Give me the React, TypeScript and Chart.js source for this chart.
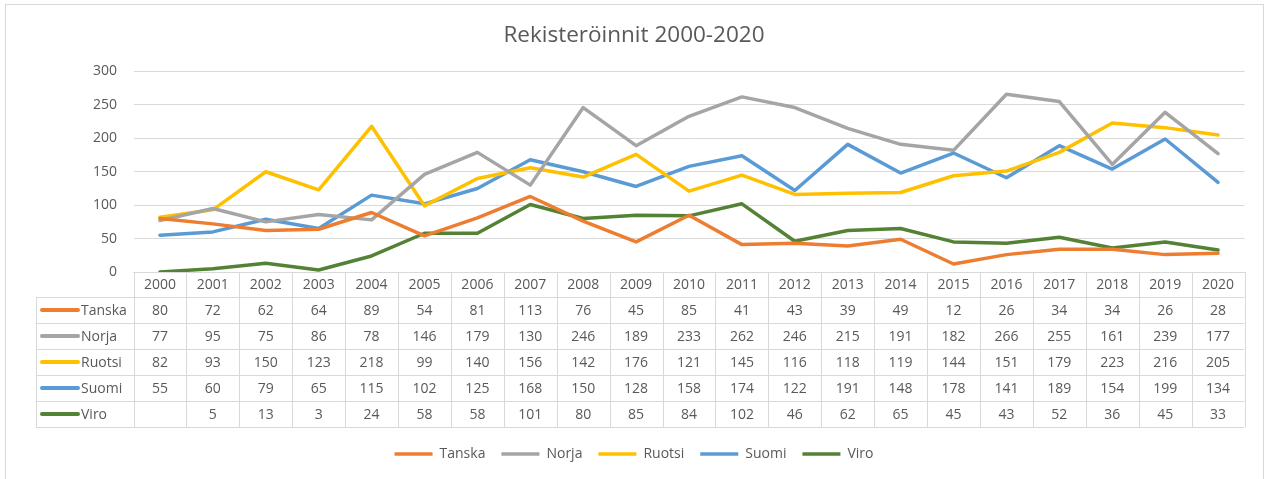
import React, { useEffect, useRef } from "react";
import { Chart, registerables } from "chart.js";

Chart.register(...registerables);

const years = ["2000","2001","2002","2003","2004","2005","2006","2007","2008","2009","2010","2011","2012","2013","2014","2015","2016","2017","2018","2019","2020"];
const tanska = [80,72,62,64,89,54,81,113,76,45,85,41,43,39,49,12,26,34,34,26,28];
const norja = [77,95,75,86,78,146,179,130,246,189,233,262,246,215,191,182,266,255,161,239,177];
const ruotsi = [82,93,150,123,218,99,140,156,142,176,121,145,116,118,119,144,151,179,223,216,205];
const suomi = [55,60,79,65,115,102,125,168,150,128,158,174,122,191,148,178,141,189,154,199,134];
const viro: (number | null)[] = [null,5,13,3,24,58,58,101,80,85,84,102,46,62,65,45,43,52,36,45,33];

const seriesNames = ["Tanska", "Norja", "Ruotsi", "Suomi", "Viro"];
const seriesColors = ["#ED7D31", "#A5A5A5", "#FFC000", "#5B9BD5", "#548235"];
const seriesValues: (number | null)[][] = [tanska, norja, ruotsi, suomi, viro];
const yTicks = { min: 0, max: 300, step: 50 };

const FONT = "'Open Sans', 'Noto Sans', sans-serif";
const TEXT = "#595959";
const GRID = "#d9d9d9";

const tablePlugin = {
  id: "dataTable",
  beforeDraw(chart: any) {
    const ctx = chart.ctx;
    ctx.save();
    ctx.strokeStyle = GRID;
    ctx.lineWidth = 1;
    ctx.strokeRect(5.5, 4.5, chart.width - 10, chart.height + 20);
    ctx.restore();
  },
  afterDraw(chart: any) {
    const ctx = chart.ctx;
    const xs = chart.scales.x;
    const { left, right, bottom } = chart.chartArea;
    const n = years.length;
    const colW = (right - left) / n;
    const headH = 25;
    const rowH = 26;
    const tableLeft = 36;
    const tableBottom = bottom + headH + rowH * seriesNames.length;
    const px = (v: number) => Math.round(v) + 0.5;

    ctx.save();
    ctx.strokeStyle = GRID;
    ctx.lineWidth = 1;
    ctx.beginPath();
    for (let k = 0; k <= seriesNames.length; k++) {
      const y = px(bottom + headH + k * rowH);
      ctx.moveTo(tableLeft, y);
      ctx.lineTo(right, y);
    }
    for (let i = 0; i <= n; i++) {
      const x = px(left + i * colW);
      ctx.moveTo(x, bottom);
      ctx.lineTo(x, tableBottom);
    }
    ctx.moveTo(px(tableLeft), bottom + headH);
    ctx.lineTo(px(tableLeft), tableBottom);
    ctx.stroke();

    ctx.font = `14px ${FONT}`;
    ctx.fillStyle = TEXT;
    ctx.textAlign = "center";
    ctx.textBaseline = "middle";
    years.forEach((yr, i) => {
      ctx.fillText(yr, xs.getPixelForValue(i), bottom + headH / 2 + 1);
    });

    seriesNames.forEach((name, r) => {
      const cy = bottom + headH + r * rowH + rowH / 2 + 1;
      ctx.strokeStyle = seriesColors[r];
      ctx.lineWidth = 4;
      ctx.lineCap = "round";
      ctx.beginPath();
      ctx.moveTo(42, cy - 1);
      ctx.lineTo(78, cy - 1);
      ctx.stroke();
      ctx.fillStyle = TEXT;
      ctx.textAlign = "left";
      ctx.fillText(name, 81, cy);
      ctx.textAlign = "center";
      seriesValues[r].forEach((v, i) => {
        if (v !== null && v !== undefined) {
          ctx.fillText(String(v), xs.getPixelForValue(i), cy);
        }
      });
    });
    ctx.restore();
  },
};

export default function App() {
  const ref = useRef<HTMLCanvasElement>(null);

  useEffect(() => {
    if (!ref.current) return;
    const chart = new Chart(ref.current, {
      type: "line",
      data: {
        labels: years,
        datasets: seriesNames.map((name, r) => ({
          label: name,
          data: seriesValues[r].map((v) => (v === null ? 0 : v)),
          borderColor: seriesColors[r],
          backgroundColor: seriesColors[r],
          borderWidth: 3.5,
          borderCapStyle: "round" as const,
          borderJoinStyle: "round" as const,
          pointRadius: 0,
          pointHoverRadius: 0,
          tension: 0,
          fill: false,
          yAxisID: "y",
        })),
      },
      options: {
        responsive: false,
        animation: false,
        layout: { padding: { left: 0, right: 0, top: 0, bottom: 8 } },
        plugins: {
          title: {
            display: true,
            text: "Rekisteröinnit 2000-2020",
            color: TEXT,
            font: { family: FONT, size: 22.5, weight: "normal" },
            padding: { top: 22, bottom: 22.5 },
          },
          legend: {
            display: true,
            position: "bottom",
            labels: {
              usePointStyle: true,
              pointStyle: "line",
              pointStyleWidth: 38,
              color: TEXT,
              font: { family: FONT, size: 14 },
              padding: 16,
            },
          },
          tooltip: { enabled: false },
        },
        scales: {
          x: {
            type: "category",
            offset: true,
            ticks: { display: false },
            grid: { display: false },
            border: { display: true, color: GRID, width: 1 },
            afterFit: (s: any) => {
              s.height = 159;
            },
          },
          y: {
            min: yTicks.min,
            max: yTicks.max,
            ticks: {
              stepSize: yTicks.step,
              color: TEXT,
              font: { family: FONT, size: 14 },
              padding: 16.5,
            },
            grid: { color: GRID, drawTicks: false },
            border: { display: false },
            afterFit: (s: any) => {
              s.width = 133.5;
            },
          },
          yRight: {
            type: "linear",
            position: "right",
            display: true,
            ticks: { display: false },
            grid: { display: false, drawTicks: false },
            border: { display: false },
            afterFit: (s: any) => {
              s.width = 23.5;
            },
          },
        },
      },
      plugins: [tablePlugin],
    });
    return () => chart.destroy();
  }, []);

  return (
    <div style={{ position: "absolute", left: 0, top: 0, width: 1268, height: 479, background: "#fff" }}>
      <canvas ref={ref} width={1268} height={479} style={{ display: "block" }} />
    </div>
  );
}
